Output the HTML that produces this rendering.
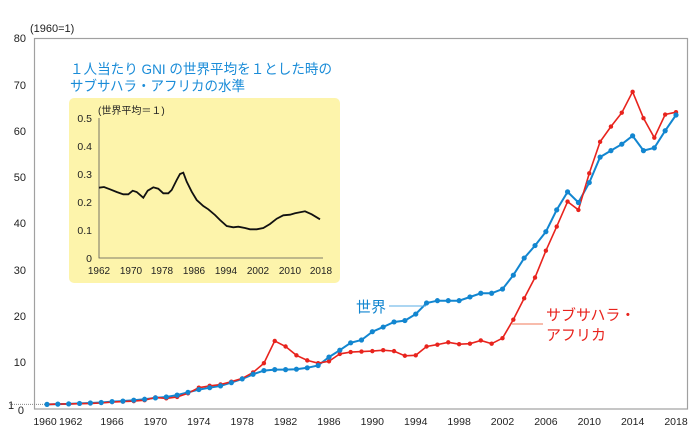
<!DOCTYPE html>
<html><head><meta charset="utf-8"><style>body{margin:0;background:#fff}svg{display:block;font-family:"Liberation Sans","Noto Sans CJK JP",sans-serif}</style></head><body>
<svg width="690" height="441" viewBox="0 0 690 441">
<rect x="34.5" y="38.5" width="653" height="370.5" fill="none" stroke="#a0a0a0" stroke-width="1.2"/>
<g font-size="11" fill="#222" text-anchor="end">
<text x="26" y="42">80</text><text x="26" y="89">70</text><text x="26" y="135">60</text><text x="26" y="181">50</text><text x="26" y="227">40</text><text x="26" y="274">30</text><text x="26" y="320">20</text><text x="26" y="366">10</text><text x="24" y="414">0</text>
</g>
<text x="8" y="409" font-size="11" fill="#222">1</text>
<line x1="10" y1="404.4" x2="47" y2="404.4" stroke="#888" stroke-dasharray="1,1"/>
<text x="30" y="32" font-size="11" fill="#222">(1960=1)</text>
<g font-size="10.5" fill="#222" text-anchor="middle" id="xl"></g>
<rect x="69" y="98" width="271" height="185" rx="5" fill="#fdf4ab"/>
<text x="70" y="74" font-size="14" fill="#1a8cd8" textLength="262" lengthAdjust="spacingAndGlyphs">１人当たり GNI の世界平均を１とした時の</text>
<text x="70" y="91" font-size="14" fill="#1a8cd8" textLength="175" lengthAdjust="spacingAndGlyphs">サブサハラ・アフリカの水準</text>
<text x="98" y="114" font-size="10" fill="#222">(世界平均＝１)</text>
<path d="M99 118 V258 H323" fill="none" stroke="#555" stroke-width="0.8"/>
<g font-size="10.5" fill="#222" text-anchor="end">
<text x="92" y="122">0.5</text><text x="92" y="150">0.4</text><text x="92" y="178">0.3</text><text x="92" y="206">0.2</text><text x="92" y="234">0.1</text><text x="92" y="262">0</text>
</g>
<g font-size="10" fill="#222" text-anchor="middle">
<text x="99" y="274">1962</text><text x="131" y="274">1970</text><text x="162" y="274">1978</text><text x="194" y="274">1986</text><text x="226" y="274">1994</text><text x="258" y="274">2002</text><text x="290" y="274">2010</text><text x="321" y="274">2018</text>
</g>
<polyline fill="none" stroke="#111" stroke-width="1.8" points="99,187.7 104,187 110,189.3 116.7,192 123.3,194.3 128.3,194.3 132.7,190.7 136.7,192 143.3,197.7 147.7,190.7 153.3,187.3 158.3,188.7 163.3,193.3 168.3,193.3 171.7,190 176.7,180 180,174 183.3,172.7 186.7,181.7 191.7,191.7 196.7,200 203.3,206 208.3,209.3 215,215 220,220 226.7,226 233.3,227.3 238.3,226.7 245,228 250,229.3 256.7,229.3 263.3,228 270,224 276.7,218.7 283.3,215.3 290,214.7 295,213.3 305,211.3 311.7,214.3 320,219.3"/>
<polyline id="w" fill="none" stroke="#1286d0" stroke-width="2"/>
<polyline id="s" fill="none" stroke="#e8231d" stroke-width="1.6"/>
<g id="dots"></g>
<text x="356" y="312" font-size="15" fill="#1286d0">世界</text>
<line x1="389" y1="306" x2="426" y2="306" stroke="#5aaee6" stroke-width="1"/>
<text x="546" y="320" font-size="15" fill="#e8231d">サブサハラ・</text>
<text x="546" y="340" font-size="15" fill="#e8231d">アフリカ</text>
<line x1="512" y1="324" x2="543" y2="324" stroke="#f07a5a" stroke-width="1"/>
</svg>
<script>
var W=[1,1.05,1.1,1.2,1.3,1.4,1.6,1.7,1.9,2.1,2.4,2.6,3.0,3.6,4.2,4.6,5.0,5.7,6.5,7.5,8.3,8.5,8.5,8.6,8.9,9.4,11.2,12.7,14.3,14.9,16.7,17.7,18.8,19.1,20.5,22.9,23.4,23.4,23.4,24.2,25,25,25.9,28.9,32.6,35.3,38.3,43,46.9,44.6,48.9,54.4,55.8,57.2,59,55.8,56.4,60.1,63.5];
var S=[1,1.05,1.1,1.15,1.2,1.3,1.5,1.6,1.7,1.9,2.5,2.3,2.6,3.4,4.6,5.0,5.3,5.9,6.6,7.9,9.9,14.7,13.5,11.6,10.5,9.9,10.3,11.9,12.3,12.4,12.5,12.7,12.5,11.5,11.6,13.5,13.9,14.4,14.0,14.1,14.8,14.1,15.3,19.3,23.9,28.4,34.2,39.4,44.8,43,50.9,57.7,61,64,68.5,62.8,58.6,63.6,64.1];
function X(i){return 47+i*10.845}function Y(v){return 409-v*4.63}
var ns="http://www.w3.org/2000/svg",d=document.getElementById("dots");
function pl(id,a,c,r){var p=a.map(function(v,i){return X(i).toFixed(1)+","+Y(v).toFixed(1)}).join(" ");document.getElementById(id).setAttribute("points",p);
a.forEach(function(v,i){var e=document.createElementNS(ns,"circle");e.setAttribute("cx",X(i));e.setAttribute("cy",Y(v));e.setAttribute("r",r);e.setAttribute("fill",c);d.appendChild(e);});}
pl("s",S,"#e8231d",2.2);pl("w",W,"#1286d0",2.6);
var xl=document.getElementById("xl");
[1960,1962,1966,1970,1974,1978,1982,1986,1990,1994,1998,2002,2006,2010,2014,2018].forEach(function(y){var t=document.createElementNS(ns,"text");t.setAttribute("x",X(y-1960)+(y==1960?-2:y==1962?2:0));t.setAttribute("y",425);t.textContent=y;xl.appendChild(t);});
</script>
</body></html>
